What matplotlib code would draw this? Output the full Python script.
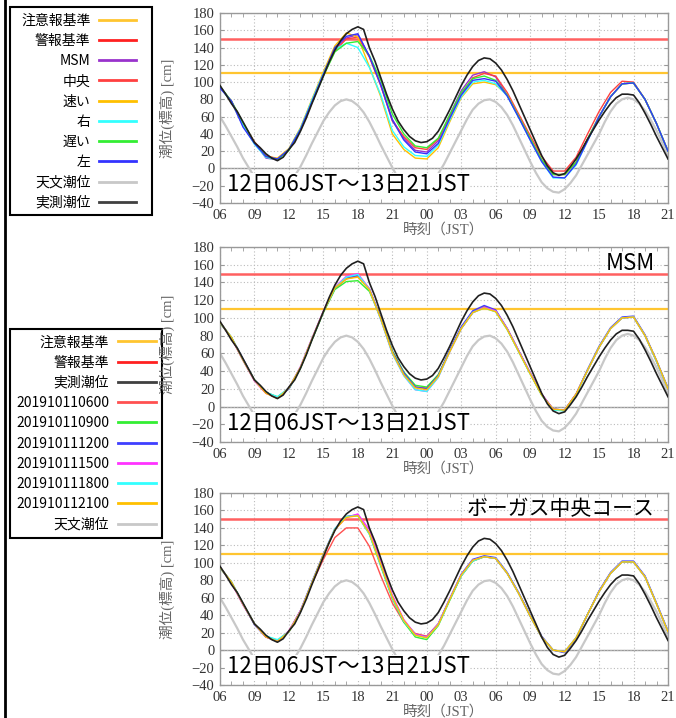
import numpy as np
import matplotlib
matplotlib.use('Agg')
import matplotlib.pyplot as plt
from matplotlib.lines import Line2D
from matplotlib.patches import Rectangle

plt.rcParams['font.family'] = ['Noto Sans CJK JP', 'DejaVu Sans']

# hours since 12日06JST
hours = np.arange(0, 40)            # forecasts, hourly
hours_half = np.arange(0, 39.5, 0.5)  # observed / astronomical, half-hourly
xtick_labels = ['06', '09', '12', '15', '18', '21', '00', '03', '06', '09', '12', '15', '18', '21']

warn_level = 150   # 警報基準
advis_level = 110  # 注意報基準

astro = [60, 49, 37, 25, 12, 1, -10, -18, -24, -27, -28, -25, -18, -9, 2, 15, 29, 42, 55, 65,
         73, 78, 80, 78, 73, 65, 54, 41, 27, 14, 1, -11, -20, -25, -28, -27, -23, -16, -6, 5,
         18, 31, 44, 57, 68, 75, 79, 80, 77, 71, 62, 50, 36, 22, 8, -5, -16, -23, -27, -28,
         -24, -17, -8, 4, 16, 28, 40, 54, 66, 75, 80, 82, 80, 75, 67, 56, 44, 30, 14]
observed = [96, 86, 75, 66, 54, 42, 30, 24, 17, 12, 9, 13, 22, 30, 43, 58, 75, 91, 107, 123,
            137, 148, 156, 161, 164, 161, 140, 124, 105, 86, 69, 55, 45, 37, 32, 30, 31, 35, 43, 55,
            68, 82, 96, 108, 118, 125, 128, 127, 122, 114, 103, 90, 75, 60, 45, 30, 15, 3, -5, -8,
            -6, 2, 11, 22, 34, 45, 56, 66, 75, 82, 86, 86, 85, 76, 64, 51, 37, 24, 11]

# panel 1: typhoon course scenarios
p1_msm = [95, 77, 50, 30, 12, 10, 22, 46, 78, 110, 138, 151, 155, 130, 96, 57, 35, 21, 19, 32,
          62, 90, 108, 112, 106, 85, 60, 35, 10, -7, -7, 7, 34, 60, 83, 98, 99, 80, 52, 20]
p1_chuo = [94, 78, 52, 31, 15, 11, 22, 45, 77, 108, 136, 150, 152, 129, 96, 55, 37, 24, 22, 34,
           60, 86, 105, 110, 107, 88, 63, 38, 14, -3, -3, 13, 40, 66, 88, 101, 100, 80, 52, 20]
p1_hayai = [95, 76, 51, 29, 14, 12, 23, 47, 80, 112, 142, 157, 152, 118, 83, 40, 22, 12, 11, 24,
            54, 82, 98, 100, 97, 85, 60, 35, 10, -7, -7, 7, 34, 60, 83, 98, 99, 80, 52, 20]
p1_migi = [94, 77, 50, 28, 13, 10, 22, 46, 79, 110, 138, 145, 140, 117, 85, 44, 25, 15, 14, 27,
           56, 83, 100, 102, 98, 84, 59, 33, 8, -11, -11, 4, 32, 60, 83, 98, 99, 80, 52, 20]
p1_osoi = [95, 78, 53, 30, 14, 10, 21, 44, 76, 107, 135, 145, 147, 131, 102, 63, 40, 26, 24, 35,
           62, 88, 104, 107, 102, 85, 60, 35, 10, -7, -7, 7, 34, 60, 83, 98, 99, 80, 52, 20]
p1_hidari = [93, 78, 48, 29, 14, 11, 22, 45, 77, 109, 140, 153, 156, 130, 97, 56, 33, 19, 17, 29,
             58, 85, 102, 104, 101, 84, 59, 33, 8, -10, -11, 5, 32, 60, 83, 98, 99, 80, 52, 20]

# panel 2: MSM by initial time
p2_0600 = [95, 77, 52, 29, 15, 10, 21, 44, 76, 107, 133, 144, 147, 132, 99, 61, 37, 22, 21, 35,
           62, 88, 106, 113, 108, 88, 63, 38, 14, -3, -4, 14, 41, 67, 88, 100, 101, 80, 51, 20]
p2_0900 = [94, 78, 53, 30, 16, 11, 20, 43, 75, 106, 132, 141, 142, 130, 100, 63, 39, 24, 22, 36,
           63, 88, 106, 112, 107, 87, 62, 37, 13, -3, -4, 14, 41, 67, 88, 100, 101, 80, 51, 20]
p2_1200 = [95, 78, 54, 30, 16, 10, 20, 44, 76, 107, 134, 145, 148, 133, 100, 62, 38, 22, 20, 35,
           64, 90, 108, 114, 109, 88, 63, 38, 14, -3, -4, 14, 42, 68, 89, 101, 102, 81, 52, 21]
p2_1500 = [95, 77, 53, 29, 15, 10, 21, 45, 77, 108, 135, 147, 150, 133, 98, 60, 35, 19, 17, 33,
           62, 88, 106, 112, 108, 88, 63, 38, 14, -3, -4, 14, 41, 67, 88, 100, 101, 80, 51, 20]
p2_1800 = [95, 78, 53, 30, 16, 11, 21, 44, 76, 107, 134, 146, 149, 132, 98, 60, 35, 19, 17, 33,
           62, 88, 106, 111, 107, 87, 62, 37, 13, -4, -5, 13, 41, 67, 88, 100, 101, 80, 51, 20]
p2_2100 = [95, 78, 53, 30, 15, 9, 21, 44, 76, 107, 134, 144, 146, 132, 99, 61, 36, 21, 19, 34,
           62, 88, 106, 111, 107, 87, 62, 37, 13, -3, -4, 14, 41, 67, 88, 100, 101, 80, 52, 20]

# panel 3: bogus central course by initial time
p3_0600 = [95, 77, 52, 30, 15, 10, 22, 45, 76, 104, 129, 140, 140, 119, 85, 54, 32, 19, 16, 30,
           58, 85, 102, 107, 105, 88, 65, 39, 15, 0, -2, 14, 41, 67, 88, 101, 101, 84, 53, 21]
p3_0900 = [94, 78, 53, 30, 16, 11, 21, 44, 77, 109, 138, 153, 154, 133, 96, 59, 32, 15, 12, 28,
           57, 85, 102, 107, 105, 88, 65, 39, 15, 0, -2, 14, 41, 67, 88, 101, 101, 84, 53, 21]
p3_1200 = [95, 78, 53, 29, 15, 10, 21, 45, 78, 110, 139, 153, 155, 134, 98, 61, 34, 18, 15, 30,
           59, 87, 104, 108, 106, 89, 66, 40, 16, 0, -3, 13, 41, 68, 89, 102, 102, 85, 54, 22]
p3_1500 = [95, 77, 52, 30, 15, 10, 22, 45, 77, 109, 138, 152, 156, 138, 102, 63, 35, 18, 15, 30,
           59, 86, 103, 107, 105, 88, 65, 39, 15, 0, -2, 14, 41, 67, 88, 101, 101, 84, 53, 21]
p3_1800 = [95, 78, 53, 30, 16, 12, 21, 44, 77, 109, 139, 153, 154, 133, 97, 60, 33, 17, 14, 29,
           58, 85, 102, 107, 105, 88, 65, 39, 15, 0, -2, 14, 41, 67, 88, 101, 101, 84, 53, 21]
p3_2100 = [95, 78, 53, 30, 15, 10, 21, 44, 77, 109, 138, 152, 154, 134, 98, 61, 34, 17, 14, 29,
           58, 86, 103, 107, 105, 88, 65, 39, 15, 0, -2, 14, 41, 67, 88, 101, 101, 84, 53, 21]

p1_names = ['MSM', '中央', '速い', '右', '遅い', '左']
p1_colors = ['#9933cc', '#ff4040', '#ffc000', '#33ffff', '#33ee33', '#3333ff']
run_names = ['201910110600', '201910110900', '201910111200', '201910111500', '201910111800', '201910112100']
run_colors = ['#ff5050', '#33ee33', '#3f3fff', '#ff33ff', '#33ffff', '#ffc000']

C_ADV = '#ffc530'
C_WARN = '#ff6060'
C_ASTRO = '#c8c8c8'
C_OBS = '#202020'

W, H = 676, 718
fig = plt.figure(figsize=(W / 100, H / 100), dpi=100)

serif_cjk = ['Liberation Serif', 'Noto Sans CJK JP']


def panel(rect, series, colors, tag=None, tag_size=16):
    ax = fig.add_axes([rect[0] / W, 1 - rect[3] / H, (rect[2] - rect[0]) / W, (rect[3] - rect[1]) / H])
    ax.plot(hours_half, astro, color=C_ASTRO, lw=1.6, zorder=2)
    ax.axhline(0, color='#999999', lw=1.0, zorder=1.5)
    ax.axhline(warn_level, color=C_WARN, lw=1.8, zorder=2)
    ax.axhline(advis_level, color=C_ADV, lw=1.6, zorder=2)
    for s, c in zip(series, colors):
        ax.plot(hours, s, color=c, lw=1.0, zorder=3)
    ax.plot(hours_half, observed, color=C_OBS, lw=1.2, zorder=4)

    ax.set_xlim(0, 39)
    ax.set_ylim(-40, 180)
    ax.set_xticks(np.arange(0, 40, 3))
    ax.set_xticklabels(xtick_labels)
    ax.set_xticks(hours, minor=True)
    ax.set_yticks(np.arange(-40, 181, 20))
    ax.grid(True, which='major', color='#bbbbbb', ls=(0, (1, 2)), lw=0.8)
    ax.tick_params(which='major', direction='in', length=0, pad=4, colors='#333333',
                   labelsize=10.5, labelfontfamily='Liberation Serif')
    ax.tick_params(which='minor', direction='in', length=3, color='#999999', top=True)
    ax.tick_params(axis='y', which='major', length=3, color='#999999', right=True)
    for sp in ax.spines.values():
        sp.set_color('#999999')
        sp.set_linewidth(1.0)
    ax.set_ylabel('潮位(標高) [cm]', family=serif_cjk, fontsize=10.5, color='#666666')
    ax.yaxis.set_label_coords(-0.1, 0.5)
    ax.set_xlabel('時刻（JST）', family=serif_cjk, fontsize=10.5, color='#666666', labelpad=1)

    ax.text(0.015, 0.035, '12日06JST～13日21JST', transform=ax.transAxes, fontsize=16,
            ha='left', va='bottom', zorder=5,
            bbox=dict(facecolor='white', edgecolor='none', pad=0.5))
    if tag:
        ax.text(0.97, 0.975, tag, transform=ax.transAxes, fontsize=tag_size, ha='right', va='top',
                zorder=5)
    return ax


panel((220, 13, 668, 203), [p1_msm, p1_chuo, p1_hayai, p1_migi, p1_osoi, p1_hidari], p1_colors)
panel((220, 247, 668, 442), [p2_0600, p2_0900, p2_1200, p2_1500, p2_1800, p2_2100], run_colors, 'MSM')
panel((220, 493, 668, 685), [p3_0600, p3_0900, p3_1200, p3_1500, p3_1800, p3_2100], run_colors,
      'ボーガス中央コース', 15)


# legends: entries without frame, box drawn separately
def mk(c):
    return Line2D([], [], color=c, lw=2)


def box(x0, y0, x1, y1):
    fig.add_artist(Rectangle((x0 / W, 1 - y1 / H), (x1 - x0) / W, (y1 - y0) / H,
                             transform=fig.transFigure, facecolor='white', edgecolor='black',
                             lw=1.5, zorder=0))


box(10, 7, 152, 215)
h1 = [mk(C_ADV), mk('#ff2020')] + [mk(c) for c in p1_colors] + [mk(C_ASTRO), mk('#404040')]
l1 = ['注意報基準', '警報基準'] + p1_names + ['天文潮位', '実測潮位']
fig.legend(h1, l1, loc='upper left', bbox_to_anchor=(10 / W, 1 - 2.5 / H), borderaxespad=0,
           markerfirst=False, fontsize=10, handlelength=2.7, handletextpad=0.6,
           borderpad=0.8, labelspacing=0.45, frameon=False)

box(10, 329, 162, 538)
h2 = [mk(C_ADV), mk('#ff2020'), mk('#404040')] + [mk(c) for c in run_colors] + [mk(C_ASTRO)]
l2 = ['注意報基準', '警報基準', '実測潮位'] + run_names + ['天文潮位']
fig.legend(h2, l2, loc='upper left', bbox_to_anchor=(10 / W, 1 - 329 / H), borderaxespad=0,
           markerfirst=False, fontsize=10, handlelength=2.8, handletextpad=0.6,
           borderpad=0.45, labelspacing=0.45, frameon=False)

# left border line
fig.add_artist(Line2D([4.5 / W, 4.5 / W], [0, 1], transform=fig.transFigure, color='black', lw=2))

fig.savefig('out.png', dpi=100)
